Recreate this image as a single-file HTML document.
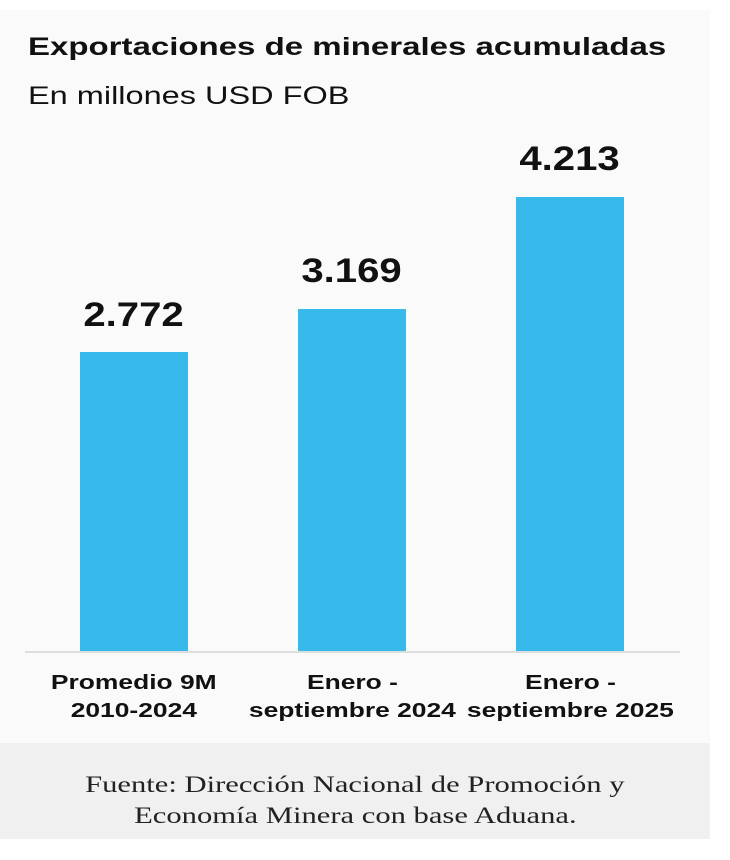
<!DOCTYPE html>
<html><head><meta charset="utf-8"><style>
body{margin:0;width:730px;height:860px;background:#fff;position:relative;overflow:hidden;font-family:"Liberation Sans",sans-serif;}
.panel{position:absolute;left:0;top:10px;width:710px;height:733px;background:#fafafa;}
.foot{position:absolute;left:0;top:743px;width:710px;height:96px;background:#f0f0f0;font-family:"Liberation Serif",serif;font-size:23px;color:#222;text-align:center;line-height:31px;padding-top:26px;box-sizing:border-box;}
.foot span{display:inline-block;transform:scaleX(1.33);}
.t{position:absolute;left:28px;top:33px;font-size:25px;font-weight:bold;color:#111;transform:scaleX(1.32);transform-origin:0 0;white-space:nowrap;}
.s{position:absolute;left:28px;top:82px;font-size:25px;color:#111;transform:scaleX(1.3);transform-origin:0 0;white-space:nowrap;}
.bar{position:absolute;width:108px;background:#38b9ec;}
.v{position:absolute;width:200px;text-align:center;font-size:34px;font-weight:bold;color:#111;}
.v span{display:inline-block;transform:scaleX(1.18);}
.c{position:absolute;width:230px;text-align:center;font-size:20px;font-weight:bold;color:#111;line-height:28px;top:669px;}
.c span{display:inline-block;transform:scaleX(1.32);}
.ax{position:absolute;left:25px;top:651px;width:655px;height:2px;background:#ddd;}
</style></head><body>
<div class="panel"></div>
<div class="t">Exportaciones de minerales acumuladas</div>
<div class="s">En millones USD FOB</div>
<div class="bar" style="left:80px;top:352px;height:300px"></div>
<div class="bar" style="left:298px;top:309px;height:343px"></div>
<div class="bar" style="left:516px;top:197px;height:455px"></div>
<div class="v" style="left:34px;top:296px"><span>2.772</span></div>
<div class="v" style="left:252px;top:252px"><span>3.169</span></div>
<div class="v" style="left:470px;top:140px"><span>4.213</span></div>
<div class="ax"></div>
<div class="c" style="left:19px"><span>Promedio 9M</span><br><span>2010-2024</span></div>
<div class="c" style="left:237px"><span>Enero -</span><br><span>septiembre 2024</span></div>
<div class="c" style="left:455px"><span>Enero -</span><br><span>septiembre 2025</span></div>
<div class="foot"><span>Fuente: Dirección Nacional de Promoción y</span><br><span>Economía Minera con base Aduana.</span></div>
</body></html>
